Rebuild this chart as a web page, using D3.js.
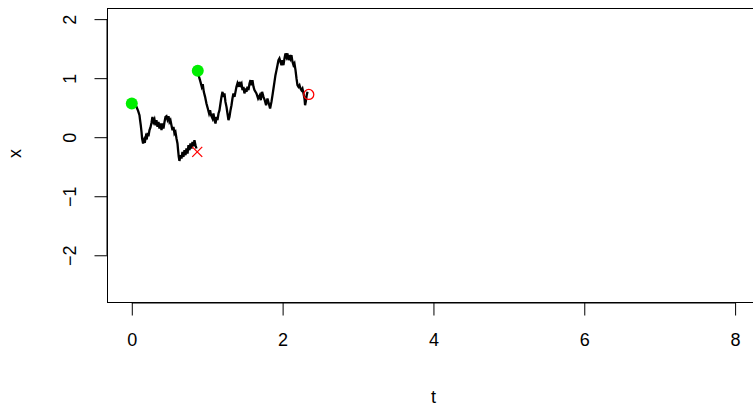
<!DOCTYPE html>
<html>
<head>
<meta charset="utf-8">
<script src="https://cdn.jsdelivr.net/npm/d3@7"></script>
<style>
  html, body { margin: 0; padding: 0; background: #fff; overflow: hidden; }
  svg { display: block; }
  text { font-family: "Liberation Sans", Arial, sans-serif; fill: #000; }
</style>
</head>
<body>
<svg id="chart" width="753" height="406"></svg>
<script>
// Path piece 1: from t = 0 until the stopping time (marked with a cross)
const t1 = [0.000, 0.062, 0.084, 0.102, 0.110, 0.119, 0.129, 0.137, 0.150, 0.163,
  0.172, 0.186, 0.199, 0.208, 0.221, 0.235, 0.248, 0.261, 0.274, 0.288,
  0.301, 0.314, 0.327, 0.341, 0.354, 0.367, 0.381, 0.394, 0.407, 0.420,
  0.434, 0.447, 0.460, 0.473, 0.487, 0.500, 0.513, 0.526, 0.540, 0.553,
  0.566, 0.579, 0.593, 0.606, 0.614, 0.623, 0.632, 0.646, 0.659, 0.672,
  0.685, 0.699, 0.712, 0.725, 0.739, 0.752, 0.765, 0.778, 0.792, 0.805,
  0.818, 0.831, 0.845, 0.858];
const x1 = [0.571, 0.514, 0.446, 0.373, 0.288, 0.203, 0.090, -0.022, -0.107, -0.051,
  -0.097, 0.005, -0.039, 0.073, 0.017, 0.119, 0.164, 0.242, 0.344, 0.259,
  0.300, 0.203, 0.288, 0.175, 0.259, 0.147, 0.232, 0.119, 0.232, 0.147,
  0.259, 0.344, 0.356, 0.300, 0.356, 0.259, 0.288, 0.203, 0.119, 0.175,
  0.063, 0.090, -0.022, -0.107, -0.220, -0.334, -0.402, -0.305, -0.361, -0.249,
  -0.334, -0.220, -0.305, -0.192, -0.276, -0.136, -0.220, -0.107, -0.192, -0.080,
  -0.153, -0.051, -0.136, -0.192];

// Path piece 2: restarted after the jump, ends at the final time (open circle)
const t2 = [0.875, 0.892, 0.911, 0.928, 0.941, 0.955, 0.972, 0.990, 1.008, 1.025,
  1.038, 1.051, 1.070, 1.083, 1.097, 1.110, 1.123, 1.136, 1.150, 1.163,
  1.176, 1.189, 1.203, 1.216, 1.229, 1.242, 1.256, 1.269, 1.282, 1.295,
  1.309, 1.322, 1.335, 1.348, 1.362, 1.375, 1.388, 1.401, 1.415, 1.428,
  1.441, 1.455, 1.468, 1.481, 1.494, 1.508, 1.521, 1.534, 1.547, 1.561,
  1.574, 1.587, 1.600, 1.614, 1.627, 1.653, 1.675, 1.697, 1.710, 1.728,
  1.746, 1.763, 1.781, 1.799, 1.817, 1.834, 1.852, 1.866, 1.879, 1.892,
  1.905, 1.919, 1.932, 1.945, 1.958, 1.972, 1.985, 1.998, 2.011, 2.025,
  2.038, 2.051, 2.064, 2.078, 2.091, 2.104, 2.117, 2.131, 2.144, 2.157,
  2.171, 2.184, 2.197, 2.210, 2.224, 2.237, 2.250, 2.263, 2.277, 2.290,
  2.298, 2.307, 2.320, 2.330];
const x2 = [1.124, 1.022, 0.937, 0.853, 0.898, 0.768, 0.683, 0.571, 0.486, 0.402,
  0.458, 0.373, 0.317, 0.402, 0.288, 0.232, 0.344, 0.288, 0.402, 0.458,
  0.571, 0.683, 0.768, 0.683, 0.741, 0.598, 0.514, 0.402, 0.288, 0.344,
  0.458, 0.542, 0.656, 0.741, 0.683, 0.768, 0.853, 0.910, 0.853, 0.937,
  0.881, 0.910, 0.797, 0.853, 0.741, 0.825, 0.768, 0.853, 0.797, 0.910,
  0.966, 0.881, 0.966, 0.853, 0.797, 0.741, 0.656, 0.712, 0.627, 0.768,
  0.683, 0.627, 0.542, 0.656, 0.571, 0.486, 0.598, 0.712, 0.825, 0.937,
  1.051, 1.136, 1.220, 1.305, 1.334, 1.276, 1.220, 1.305, 1.220, 1.334,
  1.419, 1.361, 1.419, 1.305, 1.390, 1.334, 1.390, 1.276, 1.220, 1.249,
  1.136, 0.995, 0.881, 0.853, 0.881, 0.825, 0.797, 0.825, 0.741, 0.656,
  0.542, 0.598, 0.712, 0.768];

// Marker points
const startT = [0.000, 0.875];
const startX = [0.571, 1.124];
const stopT = [0.868];
const stopX = [-0.249];
const endT = [2.347];
const endX = [0.724];

const xTicks = [0, 2, 4, 6, 8];
const yTicks = [-2, -1, 0, 1, 2];
const xLabel = "t";
const yLabel = "x";

const FONT = 18;
const svg = d3.select("#chart");
const box = { left: 107.5, right: 763, top: 8.5, bottom: 302.5 };

const xScale = d3.scaleLinear().domain([-0.322, 8.37]).range([box.left, box.right]);
const yScale = d3.scaleLinear().domain([-2.80, 2.18]).range([box.bottom, box.top]);

// Frame (right side falls outside the canvas)
svg.append("rect")
  .attr("x", box.left).attr("y", box.top)
  .attr("width", box.right - box.left).attr("height", box.bottom - box.top)
  .attr("fill", "none").attr("stroke", "#000").attr("stroke-width", 1);

// Bottom axis
const xAxis = d3.axisBottom(xScale).tickValues(xTicks).tickSize(13).tickPadding(18)
  .tickFormat(d3.format("d"));
const gx = svg.append("g").attr("transform", `translate(0,${box.bottom})`).call(xAxis);
gx.select(".domain").attr("d", `M${xScale(0)},0.5H${xScale(8)}`);
gx.selectAll("text").attr("font-size", FONT).attr("font-family", "Liberation Sans, Arial, sans-serif");

// Left axis, labels drawn parallel to the axis
const yAxis = d3.axisLeft(yScale).tickValues(yTicks).tickSize(13).tickPadding(0)
  .tickFormat(d => d < 0 ? "\u2212" + Math.abs(d) : String(d));
const gy = svg.append("g").attr("transform", `translate(${box.left},0)`).call(yAxis);
gy.select(".domain").attr("d", `M-0.5,${yScale(-2)}V${yScale(2)}`);
gy.selectAll(".tick text")
  .attr("font-size", FONT).attr("font-family", "Liberation Sans, Arial, sans-serif")
  .attr("x", null).attr("dy", null)
  .attr("text-anchor", "middle")
  .attr("transform", "translate(-38,0) rotate(-90)")
  .attr("dominant-baseline", "central");

// Axis titles
svg.append("text").attr("x", xScale(4)).attr("y", 403)
  .attr("text-anchor", "middle").attr("font-size", FONT).text(xLabel);
svg.append("text")
  .attr("transform", `translate(21,${(box.top + box.bottom) / 2 - 2}) rotate(-90)`)
  .attr("text-anchor", "middle").attr("font-size", FONT).text(yLabel);

// Sample paths
const line = d3.line().x(d => xScale(d[0])).y(d => yScale(d[1]));
const plot = svg.append("g");
[[t1, x1], [t2, x2]].forEach(([ts, xs]) => {
  plot.append("path")
    .datum(ts.map((t, i) => [t, xs[i]]))
    .attr("d", line)
    .attr("fill", "none").attr("stroke", "#000")
    .attr("stroke-width", 2.3).attr("stroke-linejoin", "miter");
});

// Start points
plot.selectAll("circle.start").data(startT.map((t, i) => [t, startX[i]])).join("circle")
  .attr("class", "start")
  .attr("cx", d => xScale(d[0])).attr("cy", d => yScale(d[1])).attr("r", 6)
  .attr("fill", "#00ee00");

// Stopping point (cross)
const s = 5;
stopT.forEach((t, i) => {
  const cx = xScale(t), cy = yScale(stopX[i]);
  plot.append("path")
    .attr("d", `M${cx - s},${cy - s}L${cx + s},${cy + s}M${cx - s},${cy + s}L${cx + s},${cy - s}`)
    .attr("stroke", "#ff0000").attr("stroke-width", 1.3).attr("fill", "none");
});

// Final point (open circle)
plot.selectAll("circle.end").data(endT.map((t, i) => [t, endX[i]])).join("circle")
  .attr("class", "end")
  .attr("cx", d => xScale(d[0])).attr("cy", d => yScale(d[1])).attr("r", 5)
  .attr("fill", "none").attr("stroke", "#ff0000").attr("stroke-width", 1.3);
</script>
</body>
</html>
